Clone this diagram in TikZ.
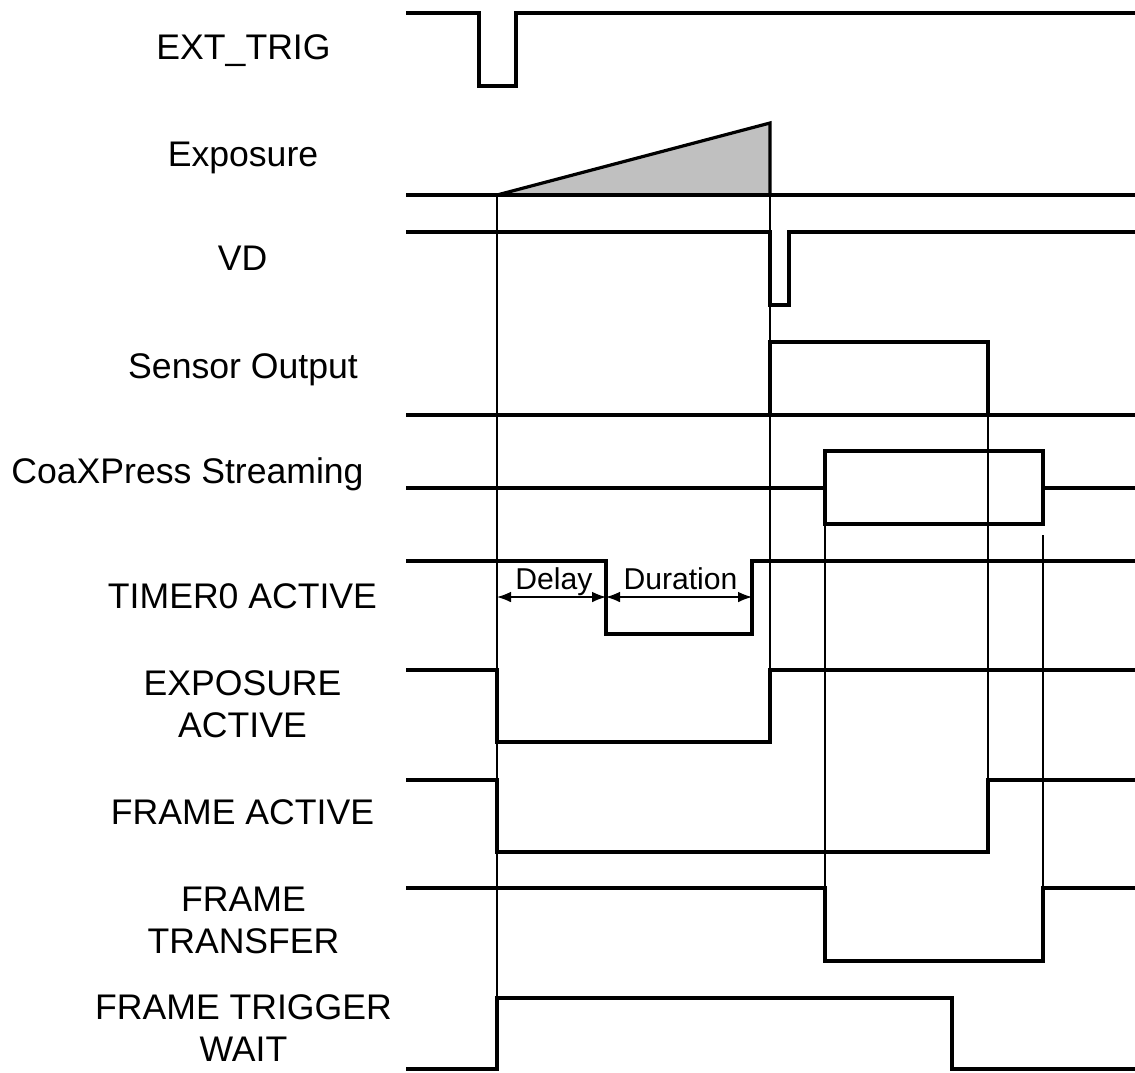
\documentclass[tikz,border=0pt]{standalone}
\usepackage{fontspec}
\setmainfont{Liberation Sans}
\usetikzlibrary{arrows.meta}
\begin{document}
\begin{tikzpicture}[x=0.75pt,y=-0.75pt,
  sig/.style={line width=2.4pt},
  guide/.style={line width=1pt},
  lbl/.style={anchor=base,align=center,font=\fontsize{26.7}{31.5}\selectfont,inner sep=0pt},
  dimarrow/.style={line width=1pt,{Latex[length=10.5pt,width=8pt]}-{Latex[length=10.5pt,width=8pt]}},
  dimlbl/.style={anchor=base,font=\fontsize{22.6}{26}\selectfont,inner sep=0pt}]
\useasboundingbox (0,0) rectangle (1135,1072);
\definecolor{expgray}{RGB}{192,192,192}

% labels (base anchor = baseline of the last line)
\node[lbl] (lext)  at (243.5,59)  {EXT\_TRIG};
\node[lbl] (lexp)  at (243,166)   {Exposure};
\node[lbl] (lvd)   at (242.5,270) {VD};
\node[lbl] (lsens) at (243,378)   {Sensor Output};
\node[lbl] (lcxp)  at (187.5,483) {CoaXPress Streaming};
\node[lbl] (ltim)  at (242.5,608) {TIMER0 ACTIVE};
\node[lbl] (lexa)  at (242.5,737) {EXPOSURE\\ACTIVE};
\node[lbl] (lfa)   at (242.5,824) {FRAME ACTIVE};
\node[lbl] (lft)   at (243.5,953) {FRAME\\TRANSFER};
\node[lbl] (lftw)  at (243.5,1061) {FRAME TRIGGER\\WAIT};

% guide lines
\draw[guide] (497,195) -- (497,998);
\draw[guide] (770,195) -- (770,742);
\draw[guide] (988,415) -- (988,780);
\draw[guide] (825,524) -- (825,888);
\draw[guide] (1043,535) -- (1043,888);

% EXT_TRIG
\draw[sig] (406,13) -- (479,13) -- (479,86) -- (516,86) -- (516,13) -- (1135,13);
% Exposure
\fill[expgray] (497,195) -- (770,123) -- (770,195) -- cycle;
\draw[sig] (406,195) -- (1135,195);
\draw[sig] (497,195) -- (770,123) -- (770,195);
% VD
\draw[sig] (406,232) -- (770,232) -- (770,305) -- (789,305) -- (789,232) -- (1135,232);
% Sensor Output
\draw[sig] (406,415) -- (1135,415);
\draw[sig] (770,415) -- (770,342) -- (988,342) -- (988,415);
% CoaXPress Streaming
\draw[sig] (406,488) -- (825,488);
\draw[sig] (1043,488) -- (1135,488);
\draw[sig] (825,451) rectangle (1043,524);
% TIMER0 ACTIVE
\draw[sig] (406,561) -- (606,561) -- (606,634) -- (752,634) -- (752,561) -- (1135,561);
\coordinate (d0) at (497,597);
\coordinate (d1) at (606,597);
\coordinate (d2) at (752,597);
\draw[dimarrow] (d0) -- (d1);
\draw[dimarrow] (d1) -- (d2);
\node[dimlbl] (ldelay) at (554,589) {Delay};
\node[dimlbl] (ldur) at (680.5,589) {Duration};
% EXPOSURE ACTIVE
\draw[sig] (406,670) -- (497,670) -- (497,742) -- (770,742) -- (770,670) -- (1135,670);
% FRAME ACTIVE
\draw[sig] (406,780) -- (497,780) -- (497,852) -- (988,852) -- (988,780) -- (1135,780);
% FRAME TRANSFER
\draw[sig] (406,888) -- (825,888) -- (825,961) -- (1043,961) -- (1043,888) -- (1135,888);
% FRAME TRIGGER WAIT
\draw[sig] (406,1069) -- (497,1069) -- (497,998) -- (952,998) -- (952,1069) -- (1135,1069);
\end{tikzpicture}
\end{document}
